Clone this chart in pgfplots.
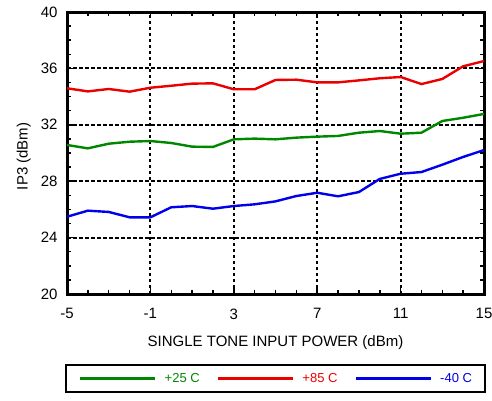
\documentclass[border=0pt]{standalone}
\usepackage{fontspec}
\setmainfont{Liberation Sans}
\usepackage{pgfplots}
\pgfplotsset{compat=1.18}

\definecolor{cgreen}{RGB}{0,135,0}
\definecolor{cred}{RGB}{235,0,0}
\definecolor{cblue}{RGB}{0,0,235}

\begin{document}
\begin{tikzpicture}
\path[use as bounding box] (0pt,0pt) rectangle (492pt,400pt);
\begin{axis}[
    at={(67pt,106pt)}, anchor=south west,
    scale only axis,
    width=417pt, height=282pt,
    xmin=-5, xmax=15, ymin=20, ymax=40,
    xtick={-5,-1,3,7,11,15},
    ytick={20,24,...,40},
    minor x tick num=3,
    minor y tick num=3,
    tick align=inside,
    major tick length=6pt, minor tick length=4pt,
    tick style={black, line width=1.5pt},
    axis line style={line width=3pt},
    xmajorgrids, ymajorgrids,
    grid style={black, line width=2pt, dash pattern=on 3.5pt off 2.5pt},
    major grid style={black, line width=2pt, dash pattern=on 3.5pt off 2.5pt},
    /pgf/number format/assume math mode=true,
    ticklabel style={font=\fontsize{15}{18}\selectfont},
    xticklabel style={yshift=-11pt},
    yticklabel style={xshift=-6pt},
    label style={font=\fontsize{15}{18}\selectfont},
    xlabel={SINGLE TONE INPUT POWER (dBm)},
    ylabel={IP3 (dBm)},
    xlabel style={at={(axis description cs:0.5,-0.174)}, anchor=center},
    ylabel style={at={(axis description cs:-0.104,0.488)}, anchor=center},
    legend columns=3,
    legend style={at={(0.5,-0.2996)}, anchor=center, draw=black, line width=2pt,
        font=\fontsize{13}{15}\selectfont,
        inner xsep=13pt, inner ysep=8pt,
        nodes={inner sep=0pt},
        /tikz/every odd column/.append style={column sep=8pt},
        /tikz/every even column/.append style={column sep=17pt}},
    legend image code/.code={\draw[#1, line width=2.7pt] (0pt,0pt) -- (75pt,0pt);},
]
\addplot[cgreen, line width=2.4pt] coordinates {
(-5,30.57) (-4,30.33) (-3,30.66) (-2,30.80) (-1,30.85) (0,30.71) (1,30.45)
(2,30.43) (3,30.97) (4,31.02) (5,30.97) (6,31.09) (7,31.16) (8,31.21)
(9,31.44) (10,31.56) (11,31.37) (12,31.44) (13,32.27) (14,32.50) (15,32.77)};
\addlegendentry{\textcolor{cgreen}{+25 C}}
\addplot[cred, line width=2.4pt] coordinates {
(-5,34.59) (-4,34.37) (-3,34.54) (-2,34.35) (-1,34.63) (0,34.77) (1,34.92)
(2,34.94) (3,34.52) (4,34.52) (5,35.18) (6,35.20) (7,35.01) (8,35.01)
(9,35.15) (10,35.30) (11,35.39) (12,34.89) (13,35.25) (14,36.15) (15,36.52)};
\addlegendentry{\textcolor{cred}{+85 C}}
\addplot[cblue, line width=2.4pt] coordinates {
(-5,25.48) (-4,25.91) (-3,25.82) (-2,25.44) (-1,25.44) (0,26.15) (1,26.24)
(2,26.05) (3,26.24) (4,26.36) (5,26.57) (6,26.95) (7,27.18) (8,26.93)
(9,27.23) (10,28.16) (11,28.53) (12,28.65) (13,29.17) (14,29.72) (15,30.21)};
\addlegendentry{\textcolor{cblue}{-40 C}}
\end{axis}
\end{tikzpicture}
\end{document}
